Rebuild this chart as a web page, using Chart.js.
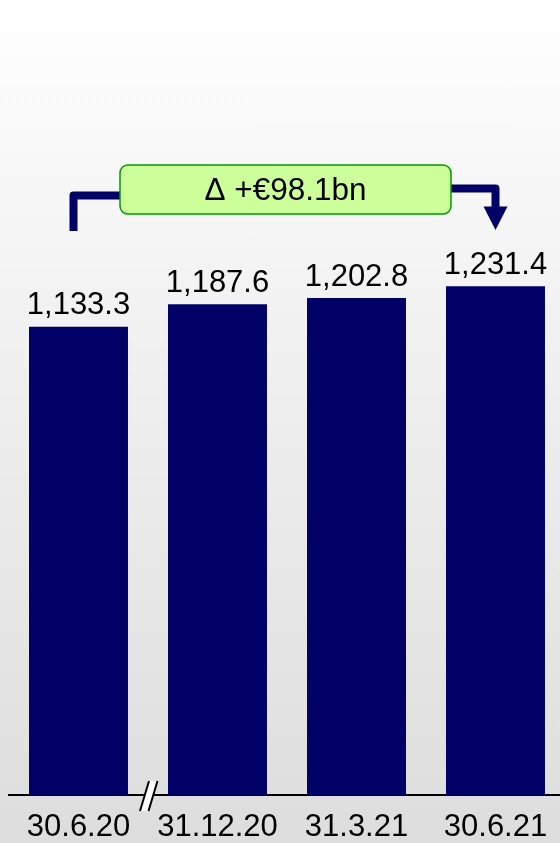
<!DOCTYPE html>
<html>
<head>
<meta charset="utf-8">
<script src="https://cdn.jsdelivr.net/npm/chart.js@4"></script>
<style>
  html, body {
    margin: 0;
    padding: 0;
    overflow: hidden;
    width: 560px;
    height: 843px;
    background: linear-gradient(to bottom, #ffffff 0%, #f4f4f4 30%, #dddddd 100%);
  }
  canvas { display: block; }
</style>
</head>
<body>
<canvas id="chart" width="570" height="843"></canvas>
<script>
// Balance sheet totals, €bn
const dates = ['30.6.20', '31.12.20', '31.3.21', '30.6.21'];
const totals = [1133.3, 1187.6, 1202.8, 1231.4];

const NAVY = '#000066';
const FONT = '"Liberation Sans", Arial, sans-serif';
const FONT_SIZE = 31;

const fmt = v => v.toLocaleString('en-US', { minimumFractionDigits: 1, maximumFractionDigits: 1 });

// value labels on top of each bar
const valueLabels = {
    id: 'valueLabels',
    afterDatasetsDraw(chart) {
        const ctx = chart.ctx;
        const meta = chart.getDatasetMeta(0);
        ctx.save();
        ctx.font = FONT_SIZE + 'px ' + FONT;
        ctx.fillStyle = '#000';
        ctx.textAlign = 'center';
        ctx.textBaseline = 'alphabetic';
        meta.data.forEach((bar, i) => {
            ctx.fillText(fmt(totals[i]), bar.x, bar.y - 12.5);
        });
        ctx.restore();
    }
};

// axis break marker between first and second category
const axisBreak = {
    id: 'axisBreak',
    afterDraw(chart) {
        const ctx = chart.ctx;
        const meta = chart.getDatasetMeta(0);
        const cx = (meta.data[0].x + meta.data[1].x) / 2 + 0.5;
        const y = chart.chartArea.bottom;
        ctx.save();
        ctx.beginPath();
        ctx.moveTo(cx - 8.5, y + 16);
        ctx.lineTo(cx + 0.5, y - 14);
        ctx.lineTo(cx + 9, y - 14);
        ctx.lineTo(cx, y + 16);
        ctx.closePath();
        ctx.fillStyle = '#fff';
        ctx.fill();
        ctx.strokeStyle = '#000';
        ctx.lineWidth = 2;
        ctx.beginPath();
        ctx.moveTo(cx - 8.5, y + 16);
        ctx.lineTo(cx + 0.5, y - 14);
        ctx.moveTo(cx, y + 16);
        ctx.lineTo(cx + 9, y - 14);
        ctx.stroke();
        ctx.restore();
    }
};

// change callout from first to last bar
const changeCallout = {
    id: 'changeCallout',
    afterDraw(chart) {
        const ctx = chart.ctx;
        const meta = chart.getDatasetMeta(0);
        const x0 = meta.data[0].x - 5;
        const x1 = meta.data[meta.data.length - 1].x;
        const boxL = 120, boxR = 451, boxT = 165, boxB = 214;
        const delta = totals[totals.length - 1] - totals[0];

        ctx.save();
        ctx.strokeStyle = NAVY;
        ctx.lineWidth = 8;
        ctx.lineJoin = 'round';
        ctx.lineCap = 'butt';
        // left connector
        ctx.beginPath();
        ctx.moveTo(x0, 231);
        ctx.lineTo(x0, 195.5);
        ctx.lineTo(boxL, 195.5);
        ctx.stroke();
        // right connector
        ctx.beginPath();
        ctx.moveTo(boxR, 188.5);
        ctx.lineTo(x1, 188.5);
        ctx.lineTo(x1, 207);
        ctx.stroke();
        ctx.fillStyle = NAVY;
        ctx.beginPath();
        ctx.moveTo(x1 - 12, 206.5);
        ctx.lineTo(x1 + 12, 206.5);
        ctx.lineTo(x1, 230);
        ctx.closePath();
        ctx.fill();

        // box
        ctx.beginPath();
        ctx.roundRect(boxL, boxT, boxR - boxL, boxB - boxT, 8);
        ctx.fillStyle = '#ccff99';
        ctx.fill();
        ctx.strokeStyle = '#009900';
        ctx.lineWidth = 1.5;
        ctx.stroke();

        ctx.fillStyle = '#000';
        ctx.font = (FONT_SIZE + 0.5) + 'px ' + FONT;
        ctx.textAlign = 'center';
        ctx.textBaseline = 'middle';
        ctx.fillText('\u0394 +\u20ac' + delta.toFixed(1) + 'bn', (boxL + boxR) / 2, 191);
        ctx.restore();
    }
};

new Chart(document.getElementById('chart'), {
    type: 'bar',
    data: {
        labels: dates,
        datasets: [{
            data: totals,
            backgroundColor: NAVY,
            barPercentage: 0.712,
            categoryPercentage: 1.0
        }]
    },
    options: {
        responsive: false,
        animation: false,
        layout: { padding: { left: 9, right: 5, top: 10, bottom: 0 } },
        plugins: {
            legend: { display: false },
            tooltip: { enabled: false }
        },
        scales: {
            x: {
                grid: { display: false, drawTicks: false },
                border: { display: true, color: '#000', width: 2 },
                ticks: {
                    color: '#000',
                    font: { family: FONT, size: FONT_SIZE },
                    padding: 14,
                    maxRotation: 0
                },
                afterFit(scale) {
                    scale.height = 48;
                }
            },
            y: {
                display: false,
                min: 0,
                max: 1900
            }
        }
    },
    plugins: [valueLabels, axisBreak, changeCallout]
});
</script>
</body>
</html>
